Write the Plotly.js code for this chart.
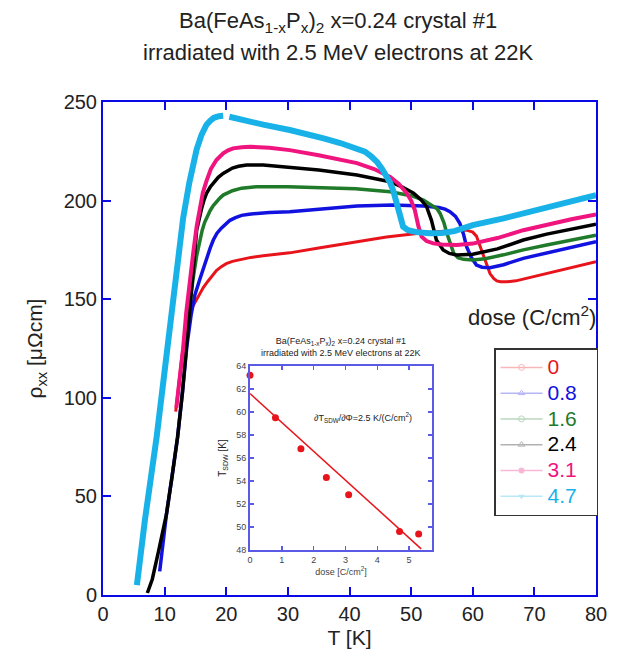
<!DOCTYPE html>
<html>
<head>
<meta charset="utf-8">
<script src="https://cdn.plot.ly/plotly-3.0.1.min.js"></script>
<style>html,body{margin:0;padding:0;background:#fff;}#chart{width:622px;height:655px;}</style>
</head>
<body>
<div id="chart"></div>
<script>
// ---- Data ----
const doseLabels = ['0', '0.8', '1.6', '2.4', '3.1', '4.7'];

const T_d0 = [11.8, 12.3, 12.8, 13.4, 14.1, 14.6, 15.2, 15.8, 16.3, 17, 17.5, 18.4, 19.2, 20, 21, 22.2, 24, 26, 28, 30.3, 35, 41.2, 46, 52, 55, 57.4, 59, 60, 60.6, 61.2, 61.7, 62.3, 62.8, 63.4, 63.9, 64.5, 65.5, 67, 70.9, 75, 80];
const rho_d0 = [93, 108, 121, 133, 142, 146.5, 150, 153.5, 156, 159, 161, 164.5, 166.5, 168, 169.2, 170, 171.2, 172, 172.8, 173.5, 176, 179, 181.5, 183.7, 184.6, 185, 185, 184, 182, 177, 172, 167, 163, 160.5, 159.3, 158.9, 158.8, 159.3, 162.3, 165.5, 169];

const T_d08 = [9.2, 10.3, 11.2, 12.1, 12.9, 13.6, 14.3, 14.9, 15.7, 16.3, 16.8, 17.4, 17.9, 18.5, 19.2, 19.9, 20.6, 21.5, 22.5, 23.7, 24.9, 27, 30.3, 35, 41.2, 47, 52, 54.5, 55.5, 56.3, 57.2, 57.9, 58.5, 59, 59.8, 60.6, 61.5, 62.8, 65, 68.2, 72, 76, 80];
const rho_d08 = [12, 41, 60, 80, 103, 126, 142, 152, 160, 166, 171, 176, 180, 183.5, 186, 188.2, 190, 191.4, 192.5, 193.1, 193.5, 194, 194.3, 195.5, 197.3, 197.8, 197.3, 196.5, 195.7, 194.4, 192, 188.5, 183, 176.6, 171, 167.3, 166.2, 166, 167.5, 170.7, 173.5, 176.5, 179.2];

const T_d16 = [13.8, 14.1, 14.6, 15.2, 15.7, 16.1, 16.5, 17, 17.4, 17.9, 18.4, 19, 19.5, 20.2, 21, 22.5, 24.9, 30, 35.8, 41, 46.6, 50, 52, 53.5, 54.2, 54.7, 55.3, 55.8, 56.4, 56.9, 57.6, 58.5, 60, 62, 65, 68.2, 72, 76, 80];
const rho_d16 = [140, 148, 160, 172, 180, 185, 189, 192.5, 195, 197.5, 199.5, 201.4, 202.8, 204, 205, 206.3, 207, 207, 206.7, 206, 204.5, 202.5, 200.3, 197.5, 195.8, 193.5, 189, 183.4, 178, 173.4, 171, 170.2, 169.9, 170.5, 172.5, 175, 177.5, 180, 182.5];

const T_d24 = [7.2, 8, 9, 10.3, 11.2, 12.1, 12.9, 13.6, 14.1, 14.6, 15.2, 15.6, 16, 16.4, 16.8, 17.4, 18, 18.7, 19.5, 20.2, 21, 22, 23.3, 26, 30.3, 35, 41.2, 46.6, 48.5, 50.4, 51.6, 52.5, 53.3, 54.1, 55.2, 56.2, 57.4, 60, 64, 68.2, 72, 76, 80];
const rho_d24 = [1, 8, 22, 41, 60, 80, 103, 126, 144.5, 163, 185, 191.5, 196, 200.3, 203.7, 206.9, 209.5, 211.8, 213.8, 215.2, 216.5, 217.4, 218, 218, 216.9, 215.5, 213, 209.6, 207, 203.7, 200.5, 197, 190, 180, 175, 173.2, 172.4, 172.8, 175.5, 180, 183, 185.5, 188];

const T_d31 = [11.9, 12.5, 13, 13.5, 14.1, 14.7, 15.2, 15.7, 16.2, 16.8, 17.5, 18.4, 19.5, 20.3, 21.1, 22.5, 23.9, 27, 30.3, 35, 41.2, 44, 46.6, 48, 49.3, 50, 50.6, 51.2, 51.7, 52.5, 53.6, 55, 57.4, 60, 64, 68.2, 72, 76, 80];
const rho_d31 = [95, 110, 125, 143, 161, 175, 187, 197, 204, 210, 216, 220.6, 224, 225.5, 226.5, 227, 227.3, 226.8, 225.6, 223, 219, 216, 212, 208.5, 203.7, 200, 195.2, 186.8, 181.7, 179.5, 178.3, 177.7, 177.5, 178.2, 181, 185, 187.8, 190.5, 193];

const T_d47 = [5.5, 6.8, 8.7, 10.5, 11.7, 12.4, 13, 14, 14.6, 15.2, 16, 16.8, 17.4, 18, 18.8, 19.5, null, 20.5, 23, 26, 30.3, 33, 35.8, 38.5, 41.2, 42.5, 43.5, 44.5, 45.3, 46, 46.6, 47.1, 47.6, 47.9, 48.3, 48.7, 49.5, 50.9, 53, 55, 57, 60, 65, 70, 75, 80];
const rho_d47 = [5, 38, 80, 125, 158, 176, 191, 209, 218.5, 226, 233.5, 238.5, 240.5, 242, 242.8, 243, null, 242.5, 241, 238.5, 235.8, 234, 231.6, 229.2, 226.5, 224.8, 222.5, 219.5, 216, 212.5, 209, 205, 199, 193.7, 189.5, 186.8, 185, 184, 183.5, 183.6, 184.5, 187.6, 191, 194.7, 198.7, 202.8];

// inset: T_SDW vs dose
const insetDose = [0, 0.8, 1.6, 2.4, 3.1, 4.7, 5.3];
const insetTsdw = [63.2, 59.5, 56.8, 54.3, 52.8, 49.6, 49.4];
const fitDose = [0, 5.38];
const fitTsdw = [61.6, 48.1];

const xTicks = [0, 10, 20, 30, 40, 50, 60, 70, 80];
const yTicks = [0, 50, 100, 150, 200, 250];

// ---- Styles ----
const colors = ['#e8141c', '#1212e0', '#1f7a2a', '#000000', '#f0147e', '#18b2e8'];
const symbols = ['circle-open', 'triangle-up-open', 'circle-open', 'triangle-up-open', 'circle', 'triangle-down'];
const widths = [3, 3.5, 3.5, 3.5, 4, 6];
const series = [[T_d0, rho_d0], [T_d08, rho_d08], [T_d16, rho_d16], [T_d24, rho_d24], [T_d31, rho_d31], [T_d47, rho_d47]];

const FONT = 'Liberation Sans, Arial, Helvetica, sans-serif';
const traces = [];
series.forEach((s, i) => {
  traces.push({
    x: s[0], y: s[1], type: 'scatter', mode: 'lines',
    line: {color: colors[i], width: widths[i], shape: 'linear'},
    showlegend: false, hoverinfo: 'skip', connectgaps: false
  });
});
// legend entries (faded like the reference)
doseLabels.forEach((lab, i) => {
  traces.push({
    x: [null], y: [null], type: 'scatter', mode: 'lines+markers',
    name: '<span style="color:' + colors[i] + ';font-size:21px">' + lab + '</span>&nbsp;&nbsp;&nbsp;',
    line: {color: colors[i], width: 1.5},
    marker: {symbol: symbols[i], size: 6, color: colors[i]},
    opacity: 0.3, showlegend: true
  });
});
// inset traces
traces.push({
  x: fitDose, y: fitTsdw, xaxis: 'x2', yaxis: 'y2', type: 'scatter', mode: 'lines',
  line: {color: '#e8141c', width: 1.5}, showlegend: false, hoverinfo: 'skip'
});
traces.push({
  x: insetDose, y: insetTsdw, xaxis: 'x2', yaxis: 'y2', type: 'scatter', mode: 'markers',
  marker: {color: '#e8141c', size: 7}, showlegend: false, cliponaxis: false
});

const axisBlue = '#0a0ae6';
const insetBlue = '#5a5ae6';
const W = 622, H = 655, L = 103, R = 596, T = 102, B = 595;
const px2x = p => (p - L) / (R - L);
const px2y = p => (B - p) / (B - T);

const layout = {
  width: W, height: H,
  margin: {l: L, r: W - R, t: T, b: H - B},
  paper_bgcolor: '#fff', plot_bgcolor: '#fff',
  font: {family: FONT, color: '#222'},
  xaxis: {
    range: [0, 80], tickvals: xTicks, ticktext: xTicks.map(String),
    ticks: 'inside', ticklen: 8, tickwidth: 2, tickcolor: axisBlue,
    showline: true, linecolor: axisBlue, linewidth: 2, mirror: 'ticks',
    showgrid: false, zeroline: false,
    tickfont: {size: 20, color: '#222'},
    title: {text: 'T [K]', font: {size: 21, color: '#222'}, standoff: 6}
  },
  yaxis: {
    range: [0, 250], tickvals: yTicks, ticktext: yTicks.map(String),
    ticks: 'inside', ticklen: 8, tickwidth: 2, tickcolor: axisBlue,
    showline: true, linecolor: axisBlue, linewidth: 2, mirror: 'ticks',
    showgrid: false, zeroline: false,
    tickfont: {size: 20, color: '#222'},
    title: {text: 'ρ<sub>xx</sub> [μΩcm]', font: {size: 21, color: '#222'}, standoff: 15}
  },
  xaxis2: {
    domain: [px2x(250), px2x(432)], anchor: 'y2',
    range: [0, 5.72], tickvals: [0, 1, 2, 3, 4, 5],
    ticks: 'inside', ticklen: 4, tickwidth: 1.5, tickcolor: insetBlue,
    showline: true, linecolor: insetBlue, linewidth: 2, mirror: 'ticks',
    showgrid: false, zeroline: false,
    tickfont: {size: 9, color: '#444'},
    title: {text: 'dose [C/cm<sup>2</sup>]', font: {size: 9, color: '#444'}, standoff: 4}
  },
  yaxis2: {
    domain: [px2y(550), px2y(366)], anchor: 'x2',
    range: [48, 64], tickvals: [48, 50, 52, 54, 56, 58, 60, 62, 64],
    ticks: 'inside', ticklen: 4, tickwidth: 1.5, tickcolor: insetBlue,
    showline: true, linecolor: insetBlue, linewidth: 2, mirror: 'ticks',
    showgrid: false, zeroline: false,
    tickfont: {size: 9, color: '#444'},
    title: {text: 'T<sub>SDW</sub> [K]', font: {size: 10, color: '#222'}, standoff: 8}
  },
  legend: {
    x: px2x(494), xanchor: 'left', y: px2y(348), yanchor: 'top',
    bordercolor: '#333', borderwidth: 1.5, bgcolor: '#fff',
    font: {size: 17.5, family: FONT}, itemwidth: 42,
    tracegroupgap: 0
  },
  annotations: [
    {text: 'Ba(FeAs<sub>1-x</sub>P<sub>x</sub>)<sub>2</sub> x=0.24 crystal #1', xref: 'paper', yref: 'paper',
     x: px2x(338), y: px2y(22), xanchor: 'center', yanchor: 'middle', showarrow: false,
     font: {size: 22, color: '#222'}},
    {text: 'irradiated with 2.5 MeV electrons at 22K', xref: 'paper', yref: 'paper',
     x: px2x(338), y: px2y(53), xanchor: 'center', yanchor: 'middle', showarrow: false,
     font: {size: 22, color: '#222'}},
    {text: 'dose (C/cm<sup>2</sup>)', xref: 'paper', yref: 'paper', x: px2x(598), y: px2y(316),
     xanchor: 'right', yanchor: 'middle', showarrow: false, font: {size: 22, color: '#222'}},
    {text: 'Ba(FeAs<sub>1-x</sub>P<sub>x</sub>)<sub>2</sub> x=0.24 crystal #1<br>irradiated with 2.5 MeV electrons at 22K',
     xref: 'paper', yref: 'paper', x: px2x(341), y: px2y(347), xanchor: 'center', yanchor: 'middle',
     showarrow: false, font: {size: 9, color: '#222'}},
    {text: '∂T<sub>SDW</sub>/∂Φ=2.5 K/(C/cm<sup>2</sup>)', xref: 'paper', yref: 'paper',
     x: px2x(363), y: px2y(417), xanchor: 'center', yanchor: 'middle', showarrow: false,
     font: {size: 9, color: '#222'}}
  ]
};

Plotly.newPlot('chart', traces, layout, {displayModeBar: false, staticPlot: true});
</script>
</body>
</html>
